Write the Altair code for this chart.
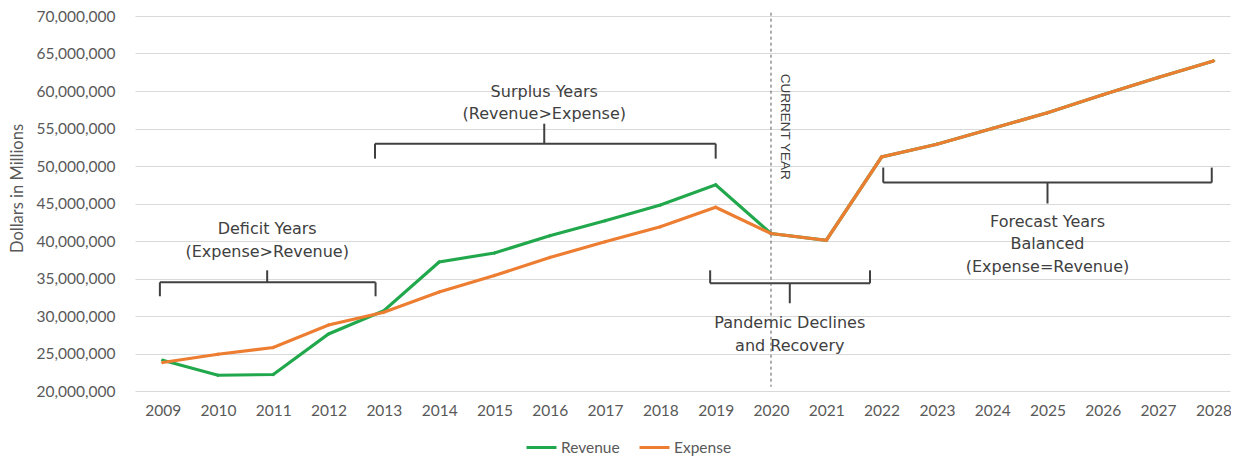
import altair as alt
import pandas as pd

# ---------------- data ----------------
years = list(range(2009, 2029))
revenue_m = [24.1, 22.1, 22.2, 27.6, 30.7, 37.2, 38.4, 40.7, 42.7, 44.8,
             47.5, 41.0, 40.1, 51.2, 52.9, 55.0, 57.1, 59.5, 61.8, 64.0]
expense_m = [23.8, 24.9, 25.8, 28.8, 30.5, 33.2, 35.4, 37.8, 39.9, 41.9,
             44.5, 41.0, 40.1, 51.2, 52.9, 55.0, 57.1, 59.5, 61.8, 64.0]
series_names = ["Revenue", "Expense"]
series_colors = ["#22a84c", "#ed7d31"]
y_ticks = [20_000_000 + 5_000_000 * i for i in range(11)]

# annotation text lines (x in years, y in millions)
ann_text = ["Deficit Years", "(Expense>Revenue)",
            "Surplus Years", "(Revenue>Expense)",
            "Pandemic Declines", "and Recovery",
            "Forecast Years", "Balanced", "(Expense=Revenue)"]
ann_x = [2010.89, 2010.89, 2015.90, 2015.90, 2020.34, 2020.34, 2025.0, 2025.0, 2025.0]
ann_y_m = [41.54, 38.48, 59.89, 56.97, 29.04, 25.98, 42.47, 39.55, 36.49]

# brackets: (x_left, x_right, y_bar, y_tick_end, x_stem, y_stem_end) in years / millions
brackets = [
    (2008.95, 2012.85, 34.49, 32.63, 2010.89, 36.09),
    (2012.84, 2019.00, 52.98, 50.98, 2015.90, 55.64),
    (2018.90, 2021.79, 34.36, 36.09, 2020.34, 31.70),
    (2022.03, 2027.97, 47.79, 49.79, 2025.00, 45.00),
]

current_year = 2020
current_line_m = (70.44, 20.57)
current_label = "CURRENT YEAR"
current_label_pos = (2020.25, 62.29)

# ---------------- tables ----------------
df = pd.DataFrame({
    "year": years * 2,
    "series": ["Revenue"] * len(years) + ["Expense"] * len(years),
    "value": [v * 1e6 for v in revenue_m] + [v * 1e6 for v in expense_m],
})

seg_rows = []
for xl, xr, yb, yt, xs, ys in brackets:
    seg_rows.append(dict(x=xl, x2=xr, y=yb * 1e6, y2=yb * 1e6))
    seg_rows.append(dict(x=xl, x2=xl, y=yb * 1e6, y2=yt * 1e6))
    seg_rows.append(dict(x=xr, x2=xr, y=yb * 1e6, y2=yt * 1e6))
    seg_rows.append(dict(x=xs, x2=xs, y=yb * 1e6, y2=ys * 1e6))
seg_df = pd.DataFrame(seg_rows)

ann_df = pd.DataFrame({"x": ann_x, "y": [v * 1e6 for v in ann_y_m], "text": ann_text})

cur_df = pd.DataFrame({"x": [current_year], "y": [current_line_m[0] * 1e6],
                       "y2": [current_line_m[1] * 1e6]})
cur_lab_df = pd.DataFrame({"x": [current_label_pos[0]], "y": [current_label_pos[1] * 1e6],
                           "text": [current_label]})

# ---------------- scales / axes ----------------
xscale = alt.Scale(domain=[2008.5, 2028.3], nice=False, zero=False)
yscale = alt.Scale(domain=[20e6, 70e6], nice=False, zero=False)

x_axis = alt.Axis(values=years, format="d", title=None, labelFont="Lato",
                  labelFontSize=15.5, labelColor="#595959", labelPadding=12,
                  ticks=False, domain=False, grid=False)
y_axis = alt.Axis(values=y_ticks, format=",.0f", title="Dollars in Millions",
                  titleFont="Lato", titleFontSize=16.5, titleFontWeight="normal",
                  titleColor="#595959", titleX=-118, titleY=172, titleAlign="center",
                  titleBaseline="middle", labelFont="Lato", labelFontSize=15.5,
                  labelColor="#595959", labelPadding=20, ticks=False, domain=False,
                  grid=True, gridColor="#d9d9d9", gridWidth=1)

X = lambda f: alt.X(f, scale=xscale, axis=x_axis)
Y = lambda f: alt.Y(f, scale=yscale, axis=y_axis)

color = alt.Color("series:N",
                  scale=alt.Scale(domain=series_names, range=series_colors),
                  legend=alt.Legend(orient="none", legendX=390, legendY=415,
                                    direction="horizontal", title=None,
                                    symbolType="stroke", symbolSize=900,
                                    symbolStrokeWidth=3, labelFont="Lato",
                                    labelFontSize=15.5, labelColor="#595959",
                                    labelOffset=3, columnPadding=13, padding=0))


def series_layers(name, col):
    base = alt.Chart(df).transform_filter(alt.datum.series == name)
    line = base.mark_line(strokeWidth=3.2).encode(
        x=X("year:Q"), y=Y("value:Q"), color=color,
    )
    pts = base.mark_point(filled=True, size=16, shape="diamond", opacity=1,
                          color=col).encode(x=X("year:Q"), y=Y("value:Q"))
    return line + pts


rev_layer = series_layers("Revenue", series_colors[0])
exp_layer = series_layers("Expense", series_colors[1])

brackets_layer = alt.Chart(seg_df).mark_rule(color="#404040", strokeWidth=2).encode(
    x=X("x:Q"), x2="x2:Q", y=Y("y:Q"), y2="y2:Q",
)

ann_layer = alt.Chart(ann_df).mark_text(font="DejaVu Sans", fontSize=16, color="#404040",
                                        align="center", baseline="middle").encode(
    x=X("x:Q"), y=Y("y:Q"), text="text:N",
)

cur_line = alt.Chart(cur_df).mark_rule(color="#595959", strokeWidth=1,
                                       strokeDash=[3, 3]).encode(
    x=X("x:Q"), y=Y("y:Q"), y2="y2:Q",
)

cur_text = alt.Chart(cur_lab_df).mark_text(font="Liberation Sans", fontSize=13.5,
                                           color="#404040", angle=90, align="left",
                                           baseline="middle").encode(
    x=X("x:Q"), y=Y("y:Q"), text="text:N",
)

chart = alt.layer(rev_layer, exp_layer, brackets_layer, ann_layer, cur_line, cur_text).properties(
    width=1095, height=375,
    autosize=alt.AutoSizeParams(type="none"),
    padding={"left": 127, "top": 8, "right": 1, "bottom": 68},
    background="white",
).configure_view(stroke=None)

chart.save("out.html", embed_options={"renderer": "svg", "actions": False})
